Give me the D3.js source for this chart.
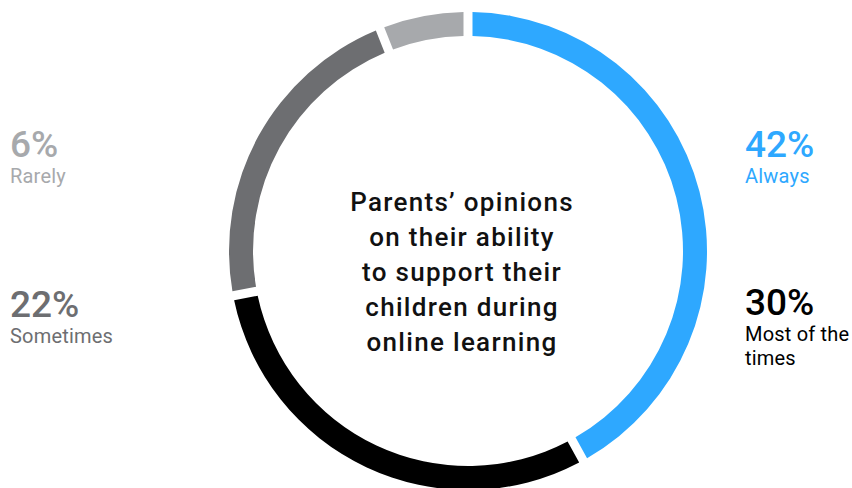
<!DOCTYPE html>
<html>
<head>
<meta charset="utf-8">
<script src="https://cdn.jsdelivr.net/npm/d3@7"></script>
<style>
  body { margin: 0; background: #fff; }
  text { font-family: Roboto, "Noto Sans", sans-serif; }
</style>
</head>
<body>
<div id="root"></div>
<script>
const categories = ['Always', 'Most of the times', 'Sometimes', 'Rarely'];
const values = [42, 30, 22, 6];
const colors = ['#2ea8ff', '#000000', '#6d6e71', '#a7a9ac'];
const titleLines = ['Parents\u2019 opinions', 'on their ability', 'to support their', 'children during', 'online learning'];

const width = 852,
    height = 488;

const cx = 468, cy = 251, outerR = 239, innerR = 215;

const svg = d3.select('#root').append('svg')
    .attr('width', width)
    .attr('height', height);

const pie = d3.pie().sort(null).value(d => d);

const arc = d3.arc()
    .innerRadius(innerR)
    .outerRadius(outerR)
    .padRadius(100)
    .padAngle(0.09);

// ring
svg.append('g')
    .attr('transform', `translate(${cx},${cy})`)
    .selectAll('path')
    .data(pie(values))
    .enter()
    .append('path')
    .attr('d', arc)
    .attr('fill', (d, i) => colors[i]);

// centre title
svg.append('g')
    .selectAll('text')
    .data(titleLines)
    .enter()
    .append('text')
    .attr('x', 462)
    .attr('y', (d, i) => 211 + i * 35)
    .attr('text-anchor', 'middle')
    .attr('font-size', 26)
    .attr('font-weight', 500)
    .attr('letter-spacing', 1.3)
    .attr('fill', '#111')
    .text(d => d);

// side labels
const labelPos = [
    { x: 745, y: 157, lines: ['Always'] },
    { x: 745, y: 315, lines: ['Most of the', 'times'] },
    { x: 10, y: 317, lines: ['Sometimes'] },
    { x: 10, y: 157, lines: ['Rarely'] }
];

const labels = svg.selectAll('.label')
    .data(categories)
    .enter()
    .append('g')
    .attr('class', 'label');

labels.append('text')
    .attr('x', (d, i) => labelPos[i].x)
    .attr('y', (d, i) => labelPos[i].y)
    .attr('font-size', 37)
    .attr('font-weight', 500)
    .attr('fill', (d, i) => colors[i])
    .text((d, i) => values[i] + '%');

labels.each(function (d, i) {
    const g = d3.select(this);
    labelPos[i].lines.forEach((ln, j) => {
        g.append('text')
            .attr('x', labelPos[i].x)
            .attr('y', labelPos[i].y + 26 + j * 24)
            .attr('font-size', 20)
            .attr('letter-spacing', 0.2)
            .attr('fill', colors[i])
            .text(ln);
    });
});
</script>
</body>
</html>
